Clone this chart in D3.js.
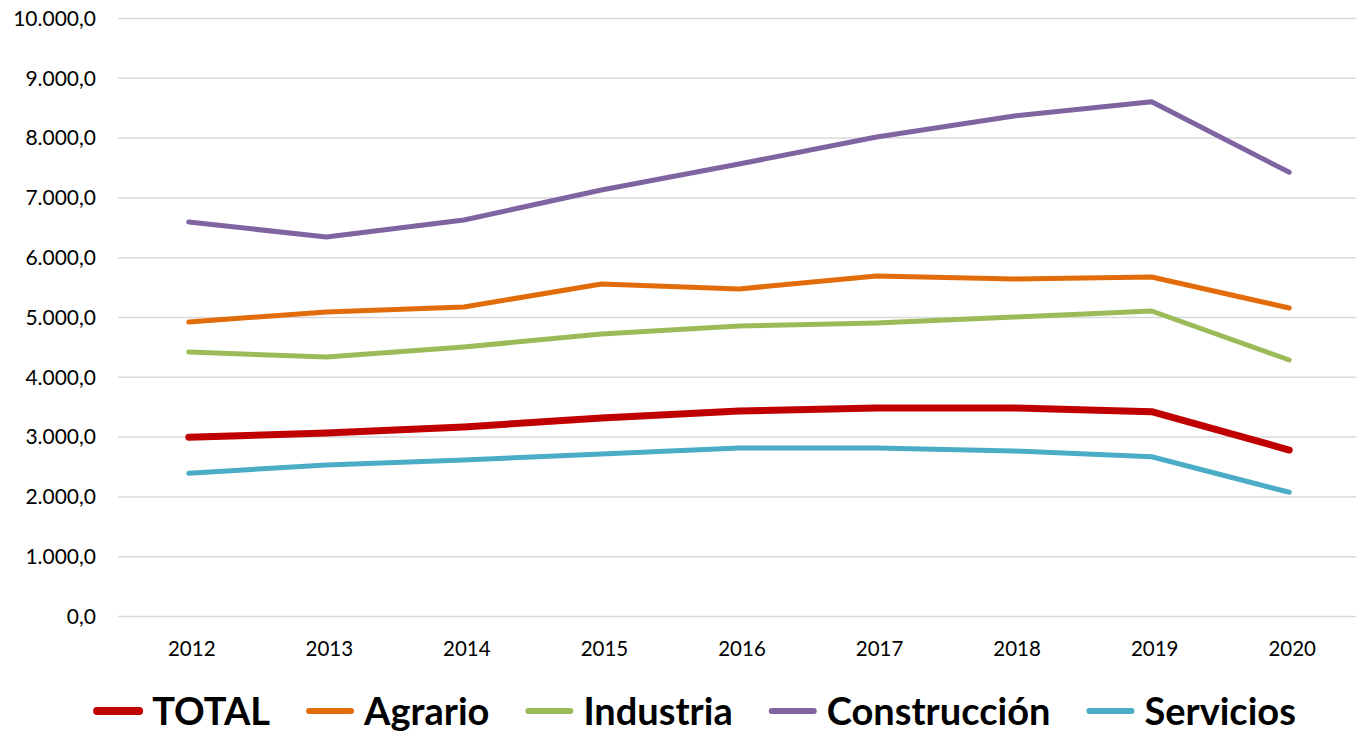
<!DOCTYPE html>
<html>
<head>
<meta charset="utf-8">
<script src="https://cdn.jsdelivr.net/npm/d3@7"></script>
<style>
  body { margin: 0; background: #fff; }
  text { font-family: Lato, "Open Sans", sans-serif; }
</style>
</head>
<body>
<svg id="chart" width="1356" height="733"></svg>
<script>
var years = ["2012", "2013", "2014", "2015", "2016", "2017", "2018", "2019", "2020"];
var seriesNames = ["TOTAL", "Agrario", "Industria", "Construcción", "Servicios"];
var seriesColors = ["#C00000", "#E36C0A", "#9BBB59", "#8064A2", "#4BACC6"];
var total = [2998, 3069, 3169, 3319, 3436, 3486, 3486, 3425, 2784];
var agrario = [4925, 5092, 5176, 5560, 5477, 5694, 5644, 5677, 5159];
var industria = [4423, 4339, 4507, 4724, 4858, 4908, 5008, 5109, 4289];
var construccion = [6597, 6346, 6630, 7132, 7567, 8019, 8370, 8609, 7428];
var servicios = [2395, 2533, 2617, 2717, 2818, 2818, 2768, 2672, 2077];
var yTicks = [0, 1000, 2000, 3000, 4000, 5000, 6000, 7000, 8000, 9000, 10000];

var seriesValues = [total, agrario, industria, construccion, servicios];

var svg = d3.select("#chart");
var margin = {top: 18.5, left: 120, right: -2, bottom: 116.5};
var width = 1356 - margin.left - margin.right,
    height = 733 - margin.top - margin.bottom;

var x = d3.scalePoint().domain(years).range([0, width]).padding(0.5);
var y = d3.scaleLinear().domain([0, 10000]).range([height, 0]);

var g = svg.append("g").attr("transform", "translate(" + margin.left + "," + margin.top + ")");

// es-ES style number format: 10.000,0
var fmt = function(v) {
  var s = d3.format(",.1f")(v);
  return s.replace(/,/g, "#").replace(".", ",").replace(/#/g, ".");
};

// gridlines
g.append("g").selectAll("line")
  .data(yTicks)
  .enter().append("line")
    .attr("x1", -2).attr("x2", width)
    .attr("y1", function(d) { return y(d); })
    .attr("y2", function(d) { return y(d); })
    .attr("stroke", "#d9d9d9")
    .attr("stroke-width", 1.5);

// y labels
g.append("g").selectAll("text")
  .data(yTicks)
  .enter().append("text")
    .attr("x", -24)
    .attr("y", function(d) { return y(d); })
    .attr("dy", "0.35em")
    .attr("text-anchor", "end")
    .attr("font-size", 21)
    .attr("fill", "#000")
    .text(fmt);

// x labels
g.append("g").selectAll("text")
  .data(years)
  .enter().append("text")
    .attr("x", function(d) { return x(d) + 3; })
    .attr("y", height + 39)
    .attr("text-anchor", "middle")
    .attr("font-size", 20.5)
    .attr("fill", "#000")
    .text(function(d) { return d; });

var line = d3.line()
  .x(function(d, i) { return x(years[i]); })
  .y(function(d) { return y(d); });

// draw in reverse so TOTAL is on top
var order = [4, 3, 2, 1, 0];
order.forEach(function(k) {
  g.append("path")
    .datum(seriesValues[k])
    .attr("fill", "none")
    .attr("stroke", seriesColors[k])
    .attr("stroke-width", k == 0 ? 7 : 5)
    .attr("stroke-linecap", "round")
    .attr("stroke-linejoin", "round")
    .attr("d", line);
});

// legend
var legend = svg.append("g").attr("class", "legend");
var lx = 0;
seriesNames.forEach(function(name, i) {
  var item = legend.append("g").attr("transform", "translate(" + lx + ",0)");
  item.append("line")
    .attr("x1", 3).attr("x2", 45)
    .attr("y1", 0).attr("y2", 0)
    .attr("stroke", seriesColors[i])
    .attr("stroke-width", i == 0 ? 8 : 6)
    .attr("stroke-linecap", "round");
  var t = item.append("text")
    .attr("x", 58)
    .attr("y", 0)
    .attr("dy", "0.36em")
    .attr("font-size", 38)
    .attr("font-weight", "bold")
    .attr("fill", "#000")
    .text(name);
  lx += 58 + t.node().getComputedTextLength() + 36;
});
lx -= 36;
legend.attr("transform", "translate(" + (695 - lx / 2) + ",711)");
</script>
</body>
</html>
